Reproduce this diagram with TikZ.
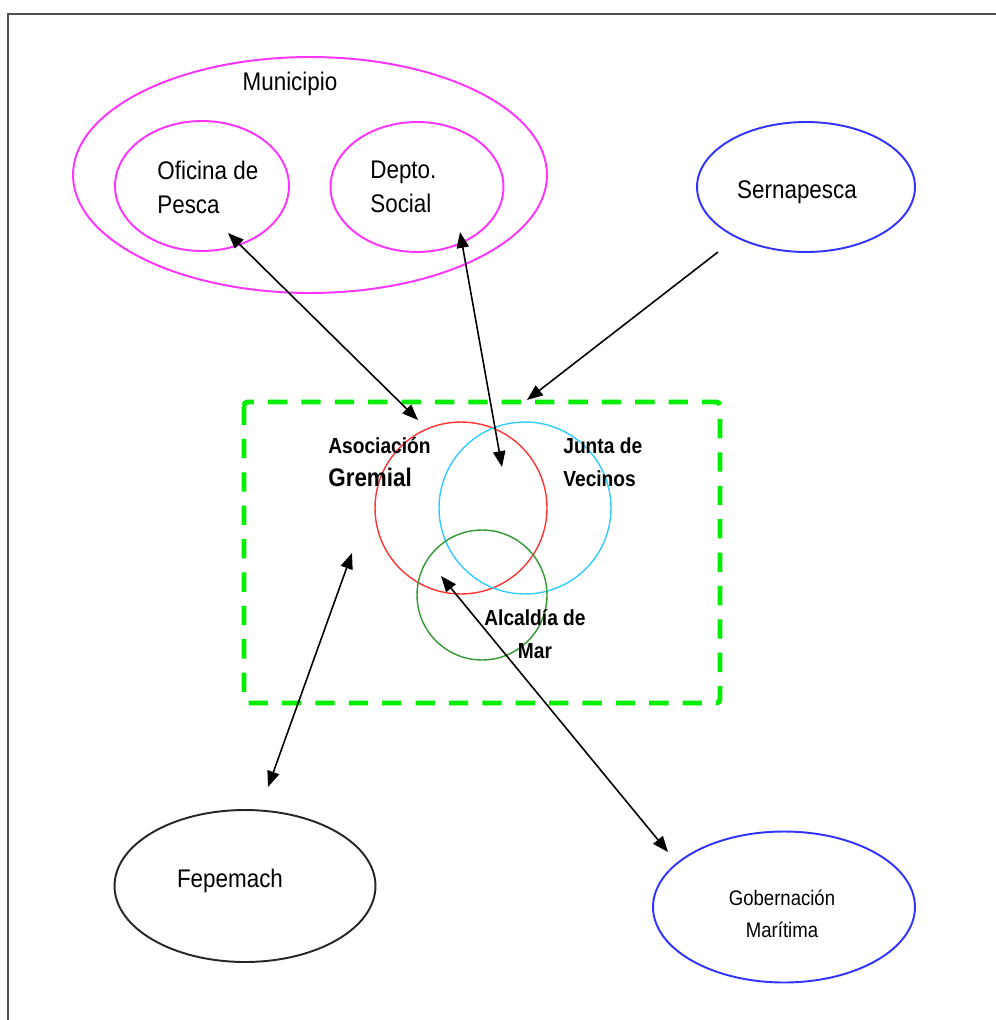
\documentclass[tikz,border=0pt]{standalone}
\usepackage{fontspec}
\setmainfont{Liberation Sans}[FakeStretch=0.88]
\usetikzlibrary{arrows.meta,positioning,shapes.geometric}
\definecolor{orgMagenta}{HTML}{FF33FF}
\definecolor{orgBlue}{HTML}{3333FF}
\definecolor{orgRed}{HTML}{FF3333}
\definecolor{orgCyan}{HTML}{33CCFF}
\definecolor{orgGreen}{HTML}{339933}
\definecolor{orgLime}{HTML}{00EE00}
\definecolor{orgGray}{HTML}{505050}
\tikzset{
  orgEllipse/.style={
    ellipse,
    draw,
    line width=1.1pt,
    inner sep=0pt
  },
  orgCircle/.style={
    circle,
    draw,
    line width=0.8pt,
    inner sep=0pt
  },
  plainLabel/.style={
    font=\fontsize{14.5}{19.3}\selectfont,
    align=left,
    inner sep=0pt
  },
  smallLabel/.style={
    font=\fontsize{12}{18}\selectfont,
    align=center,
    inner sep=0pt
  },
  boldLabel/.style={
    font=\bfseries\fontsize{12.4}{18.7}\selectfont,
    inner sep=0pt
  },
  linkArrow/.style={{Triangle[length=9pt,width=7pt]}-{Triangle[length=9pt,width=7pt]}, line width=0.9pt, black},
  oneArrow/.style={-{Triangle[length=9pt,width=7pt]}, line width=0.9pt, black},
  zoneBox/.style={draw=orgLime, line width=2.8pt, dash pattern=on 11pt off 8pt, rounded corners=2pt}
}
\begin{document}
\begin{tikzpicture}[x=0.02cm,y=-0.02cm]
  \useasboundingbox (0,0) rectangle (996,1020);
  \draw[orgGray, line width=1.6pt] (8,1020) -- (8,14) -- (996,14);

  % municipio and its offices
  \node[orgEllipse, draw=orgMagenta, minimum width=9.48cm, minimum height=4.72cm]
    (municipio) at (310,175) {};
  \node[orgEllipse, draw=orgMagenta, minimum width=3.48cm, minimum height=2.6cm]
    (oficina) at (202,186) {};
  \node[orgEllipse, draw=orgMagenta, minimum width=3.46cm, minimum height=2.6cm]
    (depto) at (417,187) {};
  \node[plainLabel] (municipioText) at (290,84) {Municipio};
  \node[plainLabel, anchor=west] (oficinaText) at (157,187) {Oficina de\\Pesca};
  \node[plainLabel, anchor=west] (deptoText) at (370,187) {Depto.\\Social};

  % outside organisations
  \node[orgEllipse, draw=orgBlue, minimum width=4.36cm, minimum height=2.6cm]
    (sernapesca) at (806,187) {};
  \node[plainLabel] (sernapescaText) at (797,192) {Sernapesca};
  \node[orgEllipse, draw=black!85, minimum width=5.22cm, minimum height=3.04cm]
    (fepemach) at (245,886) {};
  \node[plainLabel] (fepemachText) at (230,881) {Fepemach};
  \node[orgEllipse, draw=orgBlue, minimum width=5.24cm, minimum height=3.02cm]
    (gobernacion) at (784,907) {};
  \node[smallLabel] (gobernacionText) at (782,914) {Gobernación\\Marítima};

  % local zone
  \draw[zoneBox] (244,402) rectangle (720,703);
  \node[orgCircle, draw=orgRed, minimum size=3.44cm] (asociacion) at (461,508) {};
  \node[orgCircle, draw=orgCyan, minimum size=3.44cm] (junta) at (525,508) {};
  \node[orgCircle, draw=orgGreen, minimum size=2.6cm] (alcaldia) at (482,595) {};
  \node[boldLabel, align=left, anchor=west] (asociacionText) at (328,462)
    {Asociación\\{\fontsize{14.5}{18.7}\selectfont Gremial}};
  \node[boldLabel, align=left, anchor=west] (juntaText) at (563,462) {Junta de\\Vecinos};
  \node[boldLabel, align=center] (alcaldiaText) at (535,634) {Alcaldía de\\Mar};

  % arrow ends
  \coordinate (oficinaEnd) at (228,233);
  \coordinate (asociacionEnd) at (418,420);
  \coordinate (deptoEnd) at (460,232);
  \coordinate (centroEnd) at (502,467);
  \coordinate (sernapescaEnd) at (718,252);
  \coordinate (zoneEnd) at (527,400);
  \coordinate (fepemachEnd) at (268,787);
  \coordinate (gremialEnd) at (352,553);
  \coordinate (gobernacionEnd) at (668,852);
  \coordinate (alcaldiaEnd) at (441,576);

  \draw[linkArrow] (oficinaEnd) -- (asociacionEnd);
  \draw[linkArrow] (deptoEnd) -- (centroEnd);
  \draw[oneArrow] (sernapescaEnd) -- (zoneEnd);
  \draw[linkArrow] (fepemachEnd) -- (gremialEnd);
  \draw[linkArrow] (gobernacionEnd) -- (alcaldiaEnd);
\end{tikzpicture}
\end{document}
